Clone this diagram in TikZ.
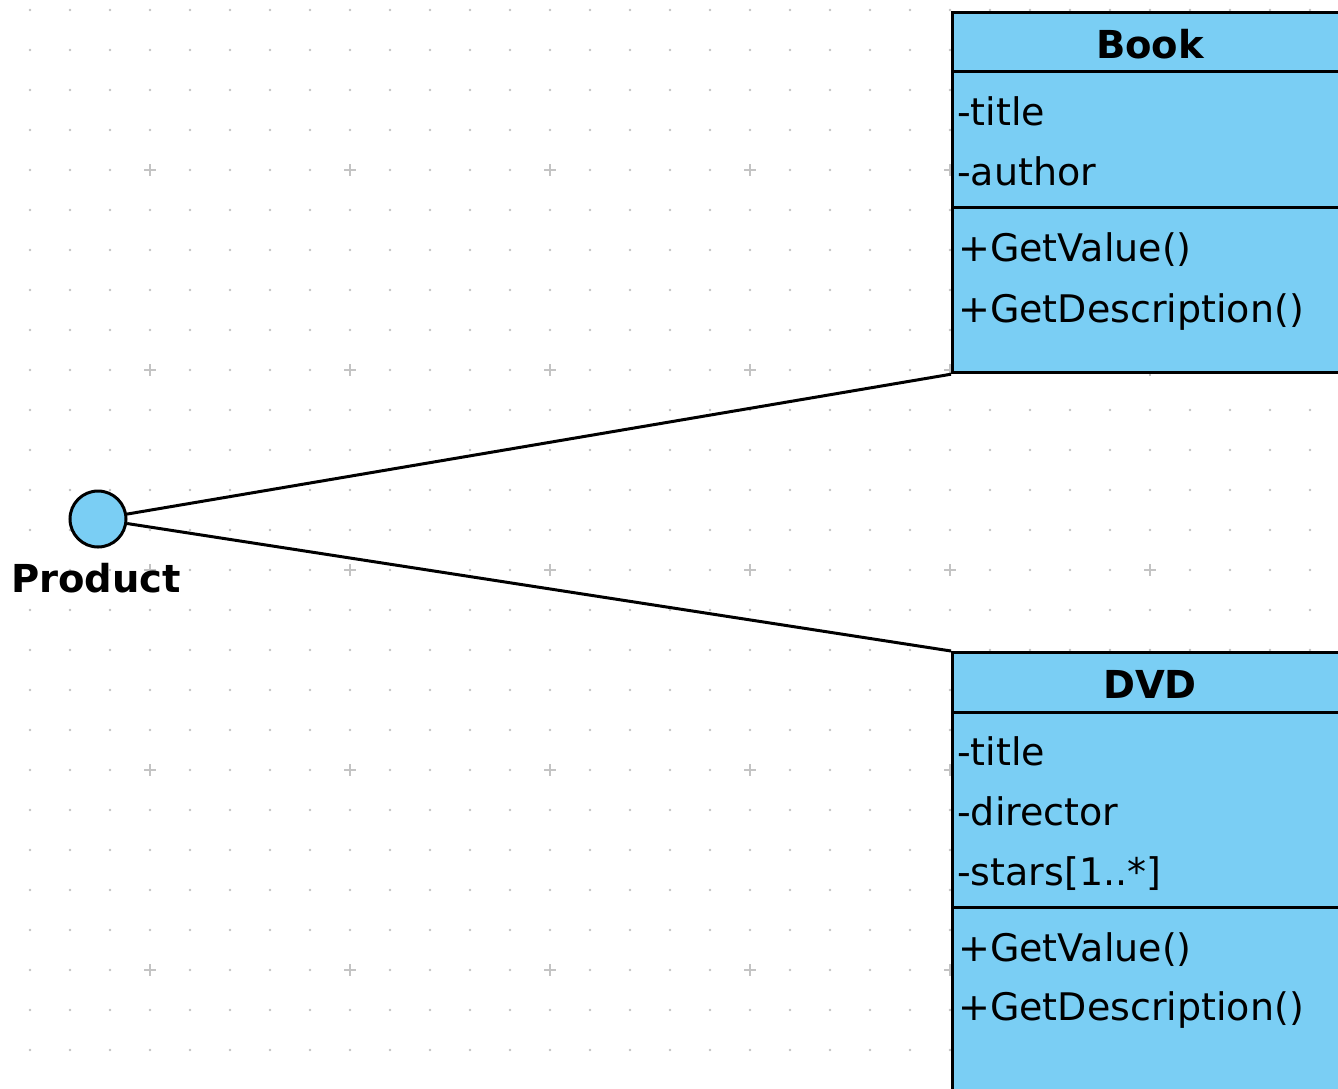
\documentclass[tikz,border=0pt]{standalone}
\usepackage{fontspec}
\setmainfont{DejaVu Sans}
\definecolor{umlblue}{RGB}{122,206,244}
\definecolor{griddot}{RGB}{195,195,195}
\tikzset{
  classbox/.style={draw=black, line width=3.2pt, fill=umlblue, rectangle, inner sep=0pt, anchor=north west},
  sepline/.style={draw=black, line width=3pt},
  assoc/.style={draw=black, line width=3pt},
  ifacecircle/.style={circle, draw=black, line width=3pt, fill=umlblue, minimum size=56pt, inner sep=0pt},
  memtext/.style={anchor=base west, inner sep=0pt, font=\fontsize{38}{46}\selectfont},
  titletext/.style={anchor=base, inner sep=0pt, font=\fontsize{38.5}{46}\selectfont\bfseries},
  gridplus/.style={draw=griddot, line width=1.3pt}
}
\begin{document}
\begin{tikzpicture}[x=1pt, y=-1pt]
\useasboundingbox (0,0) rectangle (1338,1088);
\clip (0,0) rectangle (1338,1088);
\fill[white] (0,0) rectangle (1338,1088);
% grid dots
\foreach \i in {0,...,32} {
  \foreach \j in {0,...,26} {
    \fill[griddot] ({30+40*\i},{10+40*\j}) circle (1.4pt);
  }
}
% grid plus marks
\foreach \i in {0,...,5} {
  \foreach \j in {0,...,4} {
    \draw[gridplus] ({150+200*\i-6},{170+200*\j}) -- ({150+200*\i+6},{170+200*\j});
    \draw[gridplus] ({150+200*\i},{170+200*\j-6}) -- ({150+200*\i},{170+200*\j+6});
  }
}
% Book class
\node[classbox, minimum width=398pt, minimum height=360pt] (book) at (951,11) {};
\draw[sepline] (951,71) -- (1349,71);
\draw[sepline] (951,207) -- (1349,207);
\node[titletext] (booktitle) at (1150,58) {Book};
\node[memtext] (bookattr1) at (957,125) {-title};
\node[memtext] (bookattr2) at (957,185) {-author};
\node[memtext] (bookop1) at (958,261) {+GetValue()};
\node[memtext] (bookop2) at (958,322) {+GetDescription()};
% DVD class
\node[classbox, minimum width=398pt, minimum height=500pt] (dvd) at (951,651) {};
\draw[sepline] (951,712) -- (1349,712);
\draw[sepline] (951,907) -- (1349,907);
\node[titletext] (dvdtitle) at (1150,698) {DVD};
\node[memtext] (dvdattr1) at (957,765) {-title};
\node[memtext] (dvdattr2) at (957,825) {-director};
\node[memtext] (dvdattr3) at (957,885) {-stars[1..*]};
\node[memtext] (dvdop1) at (958,961) {+GetValue()};
\node[memtext] (dvdop2) at (958,1020) {+GetDescription()};
% Product interface
\node[ifacecircle] (prod) at (98,519) {};
\node[titletext] (prodlabel) at (96,592) {Product};
% associations
\draw[assoc] (prod) -- (book.south west);
\draw[assoc] (prod) -- (dvd.north west);
\end{tikzpicture}
\end{document}
